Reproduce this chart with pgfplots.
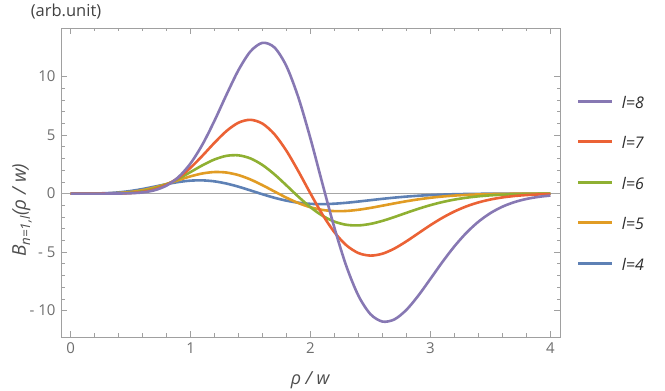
\documentclass[border=0pt]{standalone}
\usepackage{pgfplots}
\pgfplotsset{compat=1.18}
\usepackage{pgfplotstable}
\usepackage{fontspec}
\setmainfont{Open Sans}
\definecolor{mblue}{HTML}{5E81B5}
\definecolor{morange}{HTML}{E19C24}
\definecolor{mgreen}{HTML}{8FB032}
\definecolor{mred}{HTML}{EB6235}
\definecolor{mpurple}{HTML}{8778B3}
\definecolor{framegray}{HTML}{A0A0A0}
\definecolor{labelgray}{HTML}{6E6E6E}
\pgfplotstableread{
x l4 l5 l6 l7 l8
0 0 0 0 0 0
0.1 0.0005 0 0 0 0
0.2 0.0076 0.0018 0.0004 0.0001 0
0.3 0.0357 0.0129 0.0045 0.0016 0.0006
0.4 0.1021 0.0496 0.0233 0.0107 0.0049
0.5 0.2190 0.1339 0.0791 0.0456 0.0259
0.6 0.3870 0.2865 0.2044 0.1422 0.0970
0.7 0.5913 0.5169 0.4339 0.3542 0.2832
0.8 0.8035 0.8156 0.7907 0.7431 0.6830
0.9 0.9866 1.1507 1.2721 1.3576 1.4134
1.0 1.1036 1.4715 1.8394 2.2073 2.5752
1.1 1.1264 1.7194 2.4196 3.2426 4.2061
1.2 1.0414 1.8392 2.9144 4.3461 6.2339
1.3 0.8537 1.7948 3.2238 5.3487 8.4583
1.4 0.5844 1.5758 3.2667 6.0582 10.560
1.5 0.2668 1.2006 3.0014 6.3030 12.156
1.6 -0.0608 0.7133 2.4381 5.9760 12.882
1.7 -0.3621 0.1736 1.6367 5.0631 12.484
1.8 -0.6085 -0.3552 0.6927 3.6445 10.876
1.9 -0.7826 -0.8172 -0.2800 1.8861 8.1781
2.0 -0.8792 -1.1722 -1.1722 0 4.6888
2.1 -0.9030 -1.3999 -1.8973 -1.7952 0.8275
2.2 -0.8669 -1.4996 -2.4026 -3.3136 -2.9506
2.3 -0.7873 -1.4862 -2.6720 -4.4290 -6.2383
2.4 -0.6816 -1.3850 -2.7219 -5.0873 -8.7409
2.5 -0.5656 -1.2254 -2.5922 -5.3023 -10.310
2.6 -0.4513 -1.0357 -2.3348 -5.1394 -10.942
2.7 -0.3474 -0.8400 -2.0038 -4.6964 -10.753
2.8 -0.2584 -0.6558 -1.6467 -4.0794 -9.9351
2.9 -0.1861 -0.4941 -1.3004 -3.3872 -8.7092
3.0 -0.1300 -0.3599 -0.9896 -2.6990 -7.2873
3.1 -0.0881 -0.2538 -0.7272 -2.0700 -5.8448
3.2 -0.0580 -0.1735 -0.5169 -1.5314 -4.5079
3.3 -0.0371 -0.1151 -0.3559 -1.0949 -3.3510
3.4 -0.0231 -0.0742 -0.2376 -0.7576 -2.4056
3.5 -0.0140 -0.0465 -0.1539 -0.5080 -1.6702
3.6 -0.0083 -0.0283 -0.0969 -0.3304 -1.1230
3.7 -0.0048 -0.0168 -0.0593 -0.2085 -0.7316
3.8 -0.0027 -0.0097 -0.0353 -0.1279 -0.4627
3.9 -0.0015 -0.0055 -0.0204 -0.0763 -0.2842
4.0 -0.0008 -0.0030 -0.0115 -0.0443 -0.1696
}\datatable
\begin{document}
\begin{tikzpicture}
\path[use as bounding box] (-61pt,-54pt) rectangle (604pt,337pt);
\begin{axis}[
  scale only axis,
  width=499pt, height=309pt,
  xmin=-0.08, xmax=4.08,
  ymin=-12.26, ymax=14.15,
  axis line style={framegray, line width=0.8pt},
  tick style={framegray, line width=0.6pt},
  major tick length=6pt, minor tick length=3.5pt,
  xtick={0,1,2,3,4},
  xticklabels={0,1,2,3,4},
  ytick={-10,-5,0,5,10},
  yticklabels={- 10,- 5,0,5,10},
  minor x tick num=4, minor y tick num=4,
  ticklabel style={font=\fontsize{15}{17}\selectfont, text=labelgray},
  xticklabel style={yshift=-2pt},
  yticklabel style={xshift=-2pt},
  xlabel={\textit{ρ / w}},
  xlabel style={font=\fontsize{18}{20}\selectfont, text=labelgray!70!black, at={(axis description cs:0.5,-0.14)}, anchor=center},
  ylabel={\textit{B\textsubscript{n=1,l}(ρ / w)}},
  ylabel style={font=\fontsize{19}{21}\selectfont, text=labelgray!70!black, at={(axis description cs:-0.078,0.41)}, anchor=center, rotate=0},
  reverse legend,
  legend style={draw=none, fill=none, at={(axis description cs:1.034,0.77)}, anchor=north west,
    row sep=28.5pt, column sep=8pt, inner sep=0pt,
    nodes={inner sep=0pt, text height=9pt, text depth=3pt, font=\fontsize{16}{18}\selectfont, text=labelgray!40!black}},
  legend image code/.code={\draw[#1, line width=2.6pt] (0pt,4pt) -- (34pt,4pt);},
  every axis plot/.append style={line width=2.6pt, smooth},
  clip mode=individual,
]
\addplot[forget plot, gray!70, line width=0.7pt, sharp plot] coordinates {(-0.08,0) (4.08,0)};
\addplot[mblue] table[x=x, y=l4] {\datatable};
\addlegendentry{\textit{l=4}}
\addplot[morange] table[x=x, y=l5] {\datatable};
\addlegendentry{\textit{l=5}}
\addplot[mgreen] table[x=x, y=l6] {\datatable};
\addlegendentry{\textit{l=6}}
\addplot[mred] table[x=x, y=l7] {\datatable};
\addlegendentry{\textit{l=7}}
\addplot[mpurple] table[x=x, y=l8] {\datatable};
\addlegendentry{\textit{l=8}}
\node[font=\fontsize{16.5}{18}\selectfont, text=labelgray!60!black] at (axis description cs:0.01,1.052) {(arb.unit)};
\end{axis}
\end{tikzpicture}
\end{document}
